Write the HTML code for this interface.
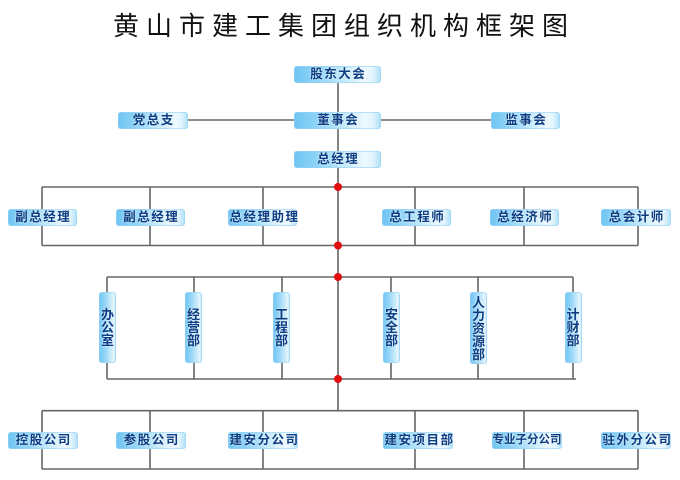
<!DOCTYPE html>
<html>
<head>
<meta charset="utf-8">
<style>
  html, body { margin:0; padding:0; background:#fff; }
  body { width:680px; height:480px; position:relative; overflow:hidden;
         font-family:"Liberation Sans","Noto Sans CJK SC",sans-serif; }
  .title { position:absolute; left:113px; top:8px; font-size:26px; line-height:36px;
           letter-spacing:7px; color:#111; white-space:nowrap;
           font-family:"Liberation Sans","Noto Sans CJK SC",sans-serif; font-weight:normal; }
  svg { position:absolute; left:0; top:0; }
  .b { position:absolute; height:17px; border-radius:3px; box-sizing:border-box;
       background:linear-gradient(to right,#6fc5f2 0%,#93d5f7 30%,#c9ebfb 60%,#eef9ff 82%,#e3f5fd 90%,#aedff8 100%);
       box-shadow: inset 0 0 0 1px rgba(150,210,245,0.6);
       color:#0c3c82; font-weight:bold; font-size:12.5px; line-height:17px; text-align:center;
       letter-spacing:1.5px; text-indent:1.5px; white-space:nowrap;
       font-family:"Liberation Sans","Noto Sans CJK SC",sans-serif;
       text-shadow:0 0 2px #fff; }
  .v { position:absolute; width:17px; border-radius:3px; box-sizing:border-box;
       background:linear-gradient(to right,#6fc5f2 0%,#93d5f7 35%,#c9ebfb 70%,#e6f6fe 88%,#aedff8 100%);
       box-shadow: inset 0 0 0 1px rgba(150,210,245,0.6);
       color:#0c3c82; font-weight:bold; font-size:13px; line-height:13px; text-align:center;
       font-family:"Liberation Sans","Noto Sans CJK SC",sans-serif;
       display:flex; flex-direction:column; justify-content:center; align-items:center;
       text-shadow:0 0 2px #fff; }
</style>
</head>
<body>
<div class="title">黄山市建工集团组织机构框架图</div>

<svg width="680" height="480" viewBox="0 0 680 480">
  <g stroke="#666" stroke-width="1.6" fill="none">
    <line x1="338" y1="83" x2="338" y2="411"/>
    <line x1="188" y1="120" x2="491" y2="120"/>
    <line x1="42" y1="187" x2="638" y2="187"/>
    <line x1="42" y1="245.5" x2="638" y2="245.5"/>
    <line x1="42" y1="187" x2="42" y2="245.5"/>
    <line x1="150" y1="187" x2="150" y2="245.5"/>
    <line x1="263" y1="187" x2="263" y2="245.5"/>
    <line x1="415" y1="187" x2="415" y2="245.5"/>
    <line x1="524" y1="187" x2="524" y2="245.5"/>
    <line x1="638" y1="187" x2="638" y2="245.5"/>
    <line x1="107" y1="277" x2="573" y2="277"/>
    <line x1="107" y1="379" x2="576" y2="379"/>
    <line x1="107" y1="277" x2="107" y2="379"/>
    <line x1="194" y1="277" x2="194" y2="379"/>
    <line x1="282" y1="277" x2="282" y2="379"/>
    <line x1="391" y1="277" x2="391" y2="379"/>
    <line x1="478" y1="277" x2="478" y2="379"/>
    <line x1="573" y1="277" x2="573" y2="379"/>
    <line x1="42" y1="410.7" x2="638" y2="410.7"/>
    <line x1="42" y1="469" x2="638" y2="469"/>
    <line x1="42" y1="410.7" x2="42" y2="469"/>
    <line x1="150" y1="410.7" x2="150" y2="469"/>
    <line x1="263" y1="410.7" x2="263" y2="469"/>
    <line x1="415" y1="410.7" x2="415" y2="469"/>
    <line x1="524" y1="410.7" x2="524" y2="469"/>
    <line x1="638" y1="410.7" x2="638" y2="469"/>
  </g>
  <g fill="#e01010">
    <circle cx="338" cy="187" r="4"/>
    <circle cx="338" cy="245.5" r="4"/>
    <circle cx="338" cy="277" r="4"/>
    <circle cx="338" cy="379" r="4"/>
  </g>
</svg>

<div class="b" style="left:294px;top:66px;width:87px;">股东大会</div>
<div class="b" style="left:294px;top:111.5px;width:87px;">董事会</div>
<div class="b" style="left:118px;top:111.5px;width:70px;">党总支</div>
<div class="b" style="left:491px;top:111.5px;width:69px;">监事会</div>
<div class="b" style="left:294px;top:150.5px;width:87px;">总经理</div>

<div class="b" style="left:8px;top:209px;width:69px;">副总经理</div>
<div class="b" style="left:116px;top:209px;width:69px;">副总经理</div>
<div class="b" style="left:228px;top:209px;width:69px;">总经理助理</div>
<div class="b" style="left:382px;top:209px;width:69px;">总工程师</div>
<div class="b" style="left:490px;top:209px;width:69px;">总经济师</div>
<div class="b" style="left:601px;top:209px;width:70px;">总会计师</div>

<div class="v" style="left:99px;top:292px;height:71px;">办<br>公<br>室</div>
<div class="v" style="left:185px;top:292px;height:71px;">经<br>营<br>部</div>
<div class="v" style="left:273px;top:292px;height:71px;">工<br>程<br>部</div>
<div class="v" style="left:383px;top:292px;height:71px;">安<br>全<br>部</div>
<div class="v" style="left:470px;top:292px;height:72px;">人<br>力<br>资<br>源<br>部</div>
<div class="v" style="left:564.5px;top:292px;height:71px;">计<br>财<br>部</div>

<div class="b" style="left:8px;top:432px;width:70px;">控股公司</div>
<div class="b" style="left:116px;top:432px;width:70px;">参股公司</div>
<div class="b" style="left:228px;top:432px;width:70px;">建安分公司</div>
<div class="b" style="left:383px;top:432px;width:70px;">建安项目部</div>
<div class="b" style="left:492px;top:432px;width:70px;font-size:11.5px;letter-spacing:0;text-indent:0;">专业子分公司</div>
<div class="b" style="left:601px;top:432px;width:70px;">驻外分公司</div>
</body>
</html>
